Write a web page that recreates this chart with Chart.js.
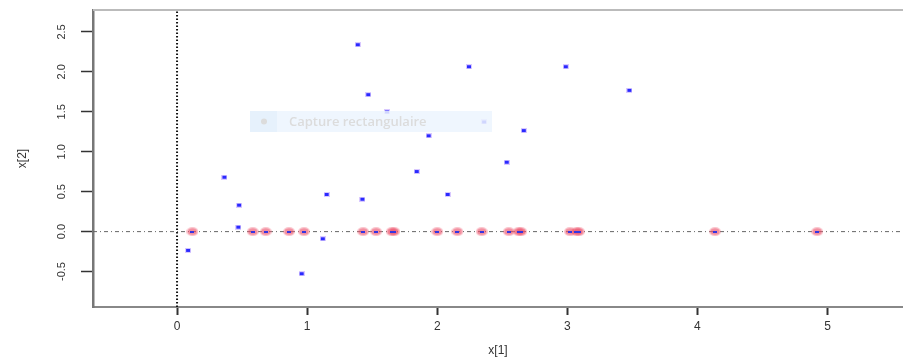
<!DOCTYPE html>
<html>
<head>
<meta charset="utf-8">
<script src="https://cdn.jsdelivr.net/npm/chart.js@4.4.0/dist/chart.umd.min.js"></script>
<style>
  html, body { margin: 0; padding: 0; background: #fff; }
  canvas { display: block; }
</style>
</head>
<body>
<canvas id="chart" width="903" height="360"></canvas>
<script>
// points off the axis: (x[1], x[2])
var blueX = [0.085, 0.364, 0.477, 0.471, 0.958, 1.12, 1.15, 1.389, 1.425, 1.47, 1.614, 1.842, 1.934, 2.08, 2.244, 2.36, 2.534, 2.665, 2.988, 3.477];
var blueY = [-0.235, 0.681, 0.331, 0.056, -0.527, -0.09, 0.465, 2.34, 0.406, 1.715, 1.498, 0.752, 1.2, 0.465, 2.065, 1.373, 0.869, 1.265, 2.065, 1.769];
// points lying on x[2] = 0
var axisX = [0.118, 0.582, 0.682, 0.861, 0.976, 1.43, 1.53, 1.65, 1.67, 2.0, 2.155, 2.342, 2.55, 2.625, 2.645, 3.02, 3.07, 3.09, 4.135, 4.92];
var xTicks = [0, 1, 2, 3, 4, 5];
var yTicks = [-0.5, 0, 0.5, 1, 1.5, 2, 2.5];
var xRange = [-0.646, 5.58];
var yRange = [-0.944, 2.775];

function sprite(w, h, draw) {
  var c = document.createElement('canvas');
  c.width = w; c.height = h;
  draw(c.getContext('2d'), w, h);
  return c;
}
var pinkDot = sprite(12, 9, function (g, w, h) {
  g.fillStyle = 'rgba(240,110,130,0.4)';
  g.beginPath(); g.ellipse(w / 2, h / 2, w / 2, h / 2, 0, 0, 2 * Math.PI); g.fill();
  g.fillStyle = 'rgba(235,60,90,0.4)';
  g.beginPath(); g.ellipse(w / 2, h / 2, w / 2 - 1.5, h / 2 - 1.2, 0, 0, 2 * Math.PI); g.fill();
});
var blueDot = sprite(6, 5, function (g, w, h) {
  g.fillStyle = 'rgba(160,120,255,0.4)'; g.fillRect(0, 0, w, h);
  g.fillStyle = '#2a2aff'; g.fillRect(1, 1, w - 2, h - 2);
});
var blueTiny = sprite(4, 2, function (g, w, h) {
  g.fillStyle = '#3535e0'; g.fillRect(0, 0, w, h);
});

var font = 'Liberation Sans';

function noPad(s) {
  s.paddingTop = 0; s.paddingBottom = 0; s.paddingLeft = 0; s.paddingRight = 0;
}

// top frame line + the screen-capture tooltip seen in the picture
var frame = {
  id: 'frame',
  beforeDatasetsDraw: function (chart) {
    var a = chart.chartArea, g = chart.ctx;
    g.save();
    g.strokeStyle = '#bbb';
    g.lineWidth = 2;
    g.beginPath(); g.moveTo(a.left, a.top); g.lineTo(a.right, a.top); g.stroke();
    g.restore();
  },
  afterDraw: function (chart) {
    var g = chart.ctx;
    g.save();
    g.fillStyle = 'rgba(236,245,254,0.85)';
    g.fillRect(250, 111, 242, 21);
    g.fillStyle = 'rgba(225,238,251,0.6)';
    g.fillRect(250, 111, 27, 21);
    g.fillStyle = '#dcdcdc';
    g.beginPath(); g.arc(264, 121.5, 3, 0, 2 * Math.PI); g.fill();
    g.fillStyle = '#dcdcdc';
    g.font = '600 13px "Open Sans"';
    g.textBaseline = 'middle';
    g.fillText('Capture rectangulaire', 289, 122);
    g.restore();
  }
};

new Chart(document.getElementById('chart'), {
  type: 'scatter',
  data: {
    datasets: [
      {
        data: blueX.map(function (x, i) { return { x: x, y: blueY[i] }; }),
        pointStyle: blueDot, pointRadius: 3, order: 0
      },
      {
        data: axisX.map(function (x) { return { x: x, y: 0 }; }),
        pointStyle: blueTiny, pointRadius: 3, order: 1
      },
      {
        data: axisX.map(function (x) { return { x: x, y: 0 }; }),
        pointStyle: pinkDot, pointRadius: 4, order: 2
      },
      {
        data: [{ x: xRange[0], y: 0 }, { x: xRange[1], y: 0 }],
        showLine: true, pointRadius: 0, borderColor: '#666', borderWidth: 1,
        borderDash: [4, 3, 1, 3], order: 3
      },
      {
        data: [{ x: 0, y: yRange[0] }, { x: 0, y: yRange[1] }],
        showLine: true, pointRadius: 0, borderColor: '#111', borderWidth: 2,
        borderDash: [1.5, 2], order: 4
      }
    ]
  },
  options: {
    responsive: false,
    animation: false,
    events: [],
    layout: { autoPadding: false, padding: { top: 10, right: 0, left: 0, bottom: 0 } },
    plugins: {
      legend: { display: false },
      tooltip: { enabled: false }
    },
    scales: {
      x: {
        type: 'linear',
        min: xRange[0],
        max: xRange[1],
        afterBuildTicks: function (s) { s.ticks = xTicks.map(function (v) { return { value: v }; }); },
        afterFit: function (s) { s.height = 53; noPad(s); },
        ticks: {
          color: '#333', font: { family: font, size: 12 }, padding: 4,
          callback: function (v) { return String(v); }
        },
        grid: { display: true, drawOnChartArea: false, tickLength: 8, tickColor: '#333', tickWidth: 2 },
        border: { display: true, color: '#888', width: 2 },
        title: {
          display: true, text: 'x[1]', color: '#333',
          font: { family: font, size: 12 }, padding: { top: 0, bottom: 2 }
        }
      },
      y: {
        type: 'linear',
        min: yRange[0],
        max: yRange[1],
        afterBuildTicks: function (s) { s.ticks = yTicks.map(function (v) { return { value: v }; }); },
        afterFit: function (s) { s.width = 93; noPad(s); },
        ticks: {
          color: '#333', font: { family: font, size: 11 }, padding: 10,
          minRotation: 90, maxRotation: 90, crossAlign: 'center', autoSkip: false,
          callback: function (v) { return v.toFixed(1); }
        },
        grid: { display: true, drawOnChartArea: false, tickLength: 12, tickColor: '#333', tickWidth: 1.5 },
        border: { display: true, color: '#777', width: 2.5 },
        title: {
          display: true, text: 'x[2]', color: '#333',
          font: { family: font, size: 12 }, padding: { top: 15, bottom: 0 }
        }
      }
    }
  },
  plugins: [frame]
});
</script>
</body>
</html>
